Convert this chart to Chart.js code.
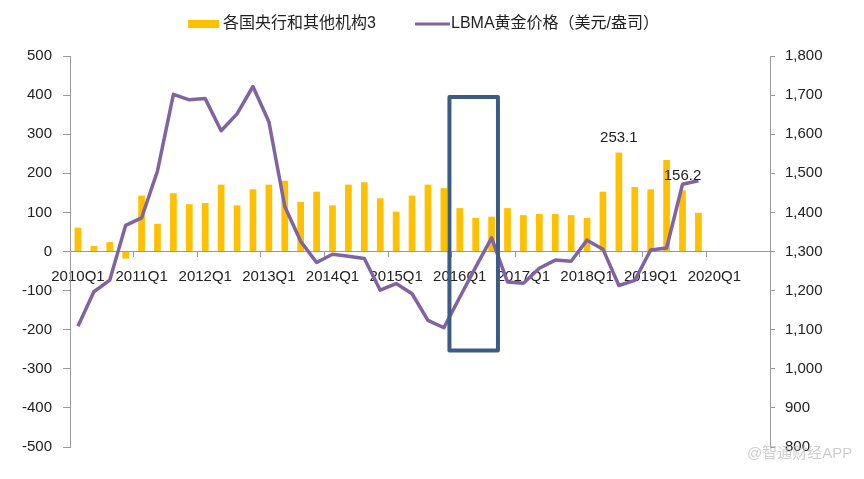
<!DOCTYPE html>
<html>
<head>
<meta charset="utf-8">
<script src="https://cdn.jsdelivr.net/npm/chart.js@4.4.0/dist/chart.umd.min.js"></script>
<style>
  html, body { margin: 0; padding: 0; background: #fff; }
  #wrap { width: 864px; height: 479px; }
</style>
</head>
<body>
<div id="wrap"><canvas id="myChart" width="864" height="479"></canvas></div>
<script>
// quarters on the axis (the last year has no data yet)
const quarters = [
  '2010Q1','2010Q2','2010Q3','2010Q4','2011Q1','2011Q2','2011Q3','2011Q4',
  '2012Q1','2012Q2','2012Q3','2012Q4','2013Q1','2013Q2','2013Q3','2013Q4',
  '2014Q1','2014Q2','2014Q3','2014Q4','2015Q1','2015Q2','2015Q3','2015Q4',
  '2016Q1','2016Q2','2016Q3','2016Q4','2017Q1','2017Q2','2017Q3','2017Q4',
  '2018Q1','2018Q2','2018Q3','2018Q4','2019Q1','2019Q2','2019Q3','2019Q4',
  '2020Q1','2020Q2','2020Q3','2020Q4'
];

// central banks & other institutions, tonnes
const centralBankTonnes = [
  61, 14, 24, -18, 143, 71, 149, 121,
  124, 171, 118, 159, 171, 181, 127, 153,
  118, 171, 177, 136, 102, 143, 171, 162,
  111, 86, 89, 111, 93, 96, 96, 93,
  86, 153, 253.1, 165, 159, 234, 156.2, 99
];

// LBMA gold price, USD/oz
const goldPrice = [
  1109, 1197, 1227, 1367, 1386, 1506, 1702, 1688,
  1691, 1609, 1652, 1722, 1632, 1415, 1326, 1272,
  1293, 1288, 1282, 1201, 1218, 1192, 1124, 1105,
  1183, 1260, 1335, 1222, 1219, 1257, 1278, 1275,
  1329, 1306, 1213, 1226, 1304, 1309, 1472, 1481
];

const seriesNames = ['各国央行和其他机构3', 'LBMA黄金价格（美元/盎司）'];
const labelledBars = [34, 38];
// highlighted window, in category index / left-axis units
const highlight = { from: 23.35, to: 26.4, low: -253, high: 395 };

const FONT = "'Liberation Sans', Arial, 'Noto Sans CJK SC', sans-serif";
const BAR_COLOR = '#FFC000';
const LINE_COLOR = '#8064A2';
const AXIS_COLOR = '#9a9a9a';
const TEXT_COLOR = '#222';

const extras = {
  id: 'extras',
  afterDatasetsDraw(chart) {
    const { ctx, scales: { x, y } } = chart;
    ctx.save();
    // highlight box
    const l = x.getPixelForValue(highlight.from);
    const r = x.getPixelForValue(highlight.to);
    const t = y.getPixelForValue(highlight.high);
    const b = y.getPixelForValue(highlight.low);
    ctx.strokeStyle = '#3B5C84';
    ctx.lineWidth = 4;
    ctx.lineJoin = 'round';
    ctx.strokeRect(l, t, r - l, b - t);

    // value labels
    const bars = chart.getDatasetMeta(0).data;
    ctx.font = '15px ' + FONT;
    ctx.fillStyle = TEXT_COLOR;
    ctx.textAlign = 'center';
    ctx.textBaseline = 'middle';
    labelledBars.forEach(i => {
      ctx.fillText(String(centralBankTonnes[i]), bars[i].x, bars[i].y - 15);
    });
    ctx.restore();
  },
  afterDraw(chart) {
    const ctx = chart.ctx;
    ctx.save();
    // legend
    ctx.font = '16px ' + FONT;
    ctx.textBaseline = 'middle';
    ctx.textAlign = 'left';
    ctx.fillStyle = BAR_COLOR;
    ctx.fillRect(188, 20, 31, 8);
    ctx.fillStyle = TEXT_COLOR;
    ctx.fillText(seriesNames[0], 223, 24);
    ctx.strokeStyle = LINE_COLOR;
    ctx.lineWidth = 3;
    ctx.beginPath();
    ctx.moveTo(415, 24);
    ctx.lineTo(450, 24);
    ctx.stroke();
    ctx.fillText(seriesNames[1], 451, 24);

    // watermark
    ctx.font = '15px ' + FONT;
    ctx.fillStyle = 'rgba(190,190,190,0.75)';
    ctx.fillText('@智通财经APP', 747, 454);
    ctx.restore();
  }
};

const ctx = document.getElementById('myChart');
new Chart(ctx, {
  type: 'bar',
  data: {
    labels: quarters,
    datasets: [
      {
        type: 'bar',
        label: seriesNames[0],
        data: centralBankTonnes,
        backgroundColor: BAR_COLOR,
        yAxisID: 'y',
        barPercentage: 0.42,
        categoryPercentage: 1,
        order: 2
      },
      {
        type: 'line',
        label: seriesNames[1],
        data: goldPrice,
        borderColor: LINE_COLOR,
        borderWidth: 3.5,
        borderJoinStyle: 'round',
        pointRadius: 0,
        tension: 0,
        yAxisID: 'y1',
        order: 1
      }
    ]
  },
  options: {
    responsive: false,
    animation: false,
    devicePixelRatio: 1,
    layout: { padding: { top: 56, left: 0, right: 0, bottom: 32 } },
    plugins: {
      legend: { display: false },
      tooltip: { enabled: false }
    },
    scales: {
      x: {
        position: { y: 0 },
        grid: {
          offset: true,
          drawOnChartArea: false,
          drawTicks: true,
          tickLength: 5,
          color: c => (c.index % 4 === 0 ? AXIS_COLOR : 'rgba(0,0,0,0)')
        },
        border: { display: true, color: AXIS_COLOR },
        ticks: {
          autoSkip: false,
          maxRotation: 0,
          minRotation: 0,
          padding: 11,
          color: TEXT_COLOR,
          font: { family: FONT, size: 15 },
          callback: (v, i) => (i % 4 === 0 ? quarters[i] : '')
        }
      },
      y: {
        position: 'left',
        min: -500,
        max: 500,
        afterFit: s => { s.width = 70; },
        grid: { drawOnChartArea: false, drawTicks: true, tickLength: 7, color: AXIS_COLOR },
        border: { display: true, color: AXIS_COLOR },
        ticks: {
          stepSize: 100,
          padding: 11,
          color: TEXT_COLOR,
          font: { family: FONT, size: 15 }
        }
      },
      y1: {
        position: 'right',
        min: 800,
        max: 1800,
        afterFit: s => { s.width = 94; },
        grid: { drawOnChartArea: false, drawTicks: true, tickLength: 5, color: AXIS_COLOR },
        border: { display: true, color: AXIS_COLOR },
        ticks: {
          stepSize: 100,
          padding: 10,
          color: TEXT_COLOR,
          font: { family: FONT, size: 15 },
          callback: v => String(v).replace(/\B(?=(\d{3})+(?!\d))/g, ',')
        }
      }
    }
  },
  plugins: [extras]
});
</script>
</body>
</html>
